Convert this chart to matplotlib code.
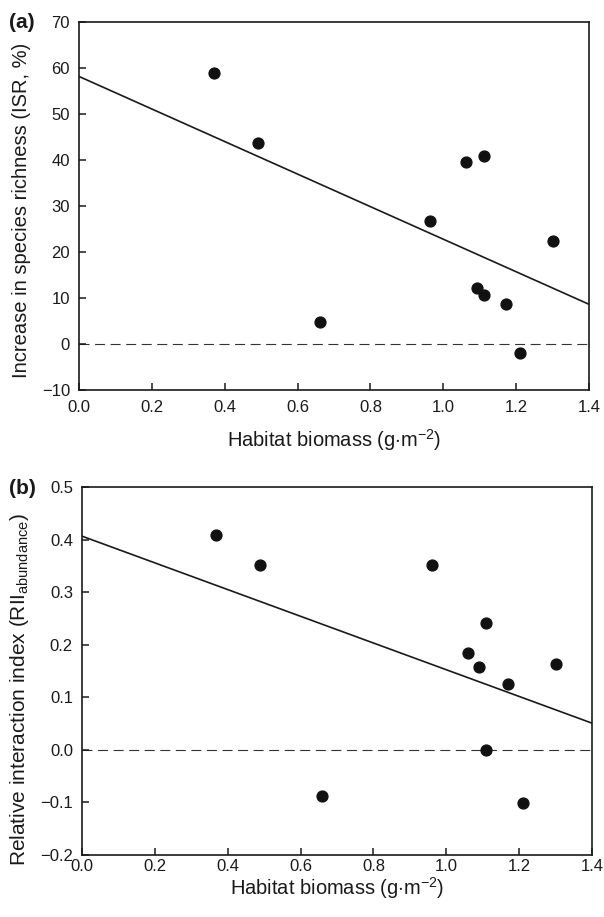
import matplotlib
matplotlib.use('Agg')
import matplotlib.pyplot as plt
import numpy as np

plt.rcParams['font.family'] = ['Liberation Sans', 'DejaVu Sans']
plt.rcParams['mathtext.fontset'] = 'custom'
plt.rcParams['mathtext.rm'] = 'Liberation Sans'
plt.rcParams['mathtext.it'] = 'Liberation Sans:italic'

# Panel (a): increase in species richness vs habitat biomass
biomass_a = [0.371, 0.491, 0.661, 0.963, 1.062, 1.112, 1.093, 1.112, 1.172, 1.210, 1.301]
isr = [58.9, 43.7, 4.8, 26.7, 39.6, 40.9, 12.2, 10.7, 8.7, -2.0, 22.4]

# Panel (b): relative interaction index vs habitat biomass
biomass_b = [0.368, 0.489, 0.659, 0.960, 1.109, 1.060, 1.091, 1.170, 1.301, 1.109, 1.210]
rii = [0.409, 0.351, -0.088, 0.352, 0.242, 0.185, 0.158, 0.125, 0.164, 0.0, -0.101]

xticks = [0.0, 0.2, 0.4, 0.6, 0.8, 1.0, 1.2, 1.4]
yticks_a = [-10, 0, 10, 20, 30, 40, 50, 60, 70]
yticks_b = [-0.2, -0.1, 0.0, 0.1, 0.2, 0.3, 0.4, 0.5]

fig = plt.figure(figsize=(6.04, 9.17), dpi=100)
ax_a = fig.add_axes([79/604, 1 - 390/917, 510/604, 368/917])
ax_b = fig.add_axes([82/604, 1 - 855/917, 510/604, 368/917])

xlabel = r'Habitat biomass (g$\cdot$m$^{\mathrm{-2}}$)'


def draw_panel(ax, x, y, yticks, ylabel, fmt, xpad, xlab_y, ylab_x, ylab_y, ylab_size):
    x = np.array(x)
    y = np.array(y)
    # regression line over full x range
    slope, intercept = np.polyfit(x, y, 1)
    xx = np.array([0.0, 1.4])
    ax.axhline(0, color='#333333', lw=0.8, ls=(0, (9, 5)), zorder=1)
    ax.plot(xx, slope * xx + intercept, color='#1a1a1a', lw=1.2, zorder=2)
    ax.plot(x, y, 'o', color='#111111', markersize=7.8, zorder=3)
    ax.set_xlim(0, 1.4)
    ax.set_ylim(yticks[0], yticks[-1])
    ax.set_xticks(xticks)
    ax.set_xticklabels(['%.1f' % v for v in xticks])
    ax.set_yticks(yticks)
    ax.set_yticklabels([fmt(v) for v in yticks])
    ax.tick_params(direction='in', length=5, width=1.1, labelsize=12,
                   colors='#1a1a1a')
    ax.tick_params(axis='x', pad=xpad)
    ax.tick_params(axis='y', pad=6.5)
    for s in ax.spines.values():
        s.set_linewidth(1.2)
        s.set_color('#1a1a1a')
    ax.set_xlabel(xlabel, fontsize=14.5, color='#1a1a1a')
    ax.set_ylabel(ylabel, fontsize=ylab_size, color='#1a1a1a')
    ax.xaxis.set_label_coords(0.5, xlab_y)
    ax.yaxis.set_label_coords(ylab_x, ylab_y)


def fmt_int(v):
    return ('%d' % v).replace('-', '\u2212')


def fmt_one(v):
    return ('%.1f' % v).replace('-', '\u2212')


draw_panel(ax_a, biomass_a, isr, yticks_a,
           'Increase in species richness (ISR, %)', fmt_int,
           7, -(427 - 390) / 368, (31 - 79) / 510, (390 - 210) / 368, 14.5)
draw_panel(ax_b, biomass_b, rii, yticks_b,
           r'Relative interaction index (RII$_{\mathrm{abundance}}$)', fmt_one,
           3, -(875 - 855) / 368, (31 - 82) / 510, (855 - 690) / 368, 15)

fig.text(9/604, 1 - 22/917, '(a)', fontsize=15, fontweight='bold',
         va='center', ha='left', color='#1a1a1a')
fig.text(9/604, 1 - 488/917, '(b)', fontsize=15, fontweight='bold',
         va='center', ha='left', color='#1a1a1a')

fig.savefig('out.png', dpi=100)
